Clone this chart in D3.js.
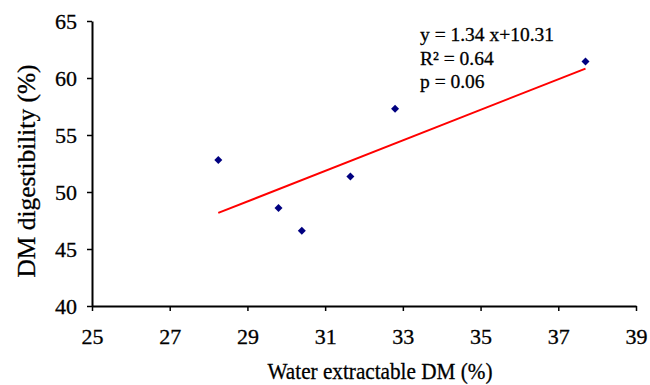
<!DOCTYPE html>
<html>
<head>
<meta charset="utf-8">
<script src="https://cdn.jsdelivr.net/npm/d3@7"></script>
<style>
  body { margin: 0; background: #fff; }
  svg text { font-family: "Liberation Serif", "Times New Roman", Times, "DejaVu Serif", serif !important; fill: #000; stroke: #000; stroke-width: 0.3px; }
</style>
</head>
<body>
<div id="container"></div>
<script>
var width = 650;
var height = 385;
var margin = { top: 21, right: 14, bottom: 79, left: 92 };

// water extractable DM (%) and DM digestibility (%)
var waterDM = [28.25, 29.8, 30.4, 31.65, 32.8, 37.7];
var digestibility = [52.8, 48.6, 46.6, 51.35, 57.3, 61.45];

var xTicks = [25, 27, 29, 31, 33, 35, 37, 39];
var yTicks = [40, 45, 50, 55, 60, 65];

var slope = 1.34;
var intercept = 10.31;
var statLines = ["y = 1.34 x+10.31", "R\u00B2 = 0.64", "p = 0.06"];

var x = d3.scaleLinear().domain([25, 39]).range([margin.left, width - margin.right]);
var y = d3.scaleLinear().domain([40, 65]).range([height - margin.bottom, margin.top]);

const svg = d3.create("svg")
    .attr("width", width)
    .attr("height", height);

// axes
var xAxis = svg.append("g")
    .attr("transform", "translate(0," + (height - margin.bottom) + ")")
    .call(d3.axisBottom(x).tickValues(xTicks).tickSize(5).tickPadding(17).tickSizeOuter(0));
var yAxis = svg.append("g")
    .attr("transform", "translate(" + margin.left + ",0)")
    .call(d3.axisLeft(y).tickValues(yTicks).tickSize(5).tickPadding(10).tickSizeOuter(0));

[xAxis, yAxis].forEach(function(a) {
    a.attr("font-family", null).attr("font-size", null);
    a.select(".domain").attr("stroke", "#000").attr("stroke-width", 2);
    a.selectAll(".tick line").attr("stroke", "#000").attr("stroke-width", 1.5);
    a.selectAll(".tick text")
	.style("font-size", "22px")
	.attr("fill", "#000");
});

// trend line over the data range
var ext = d3.extent(waterDM);
svg.append("path")
    .datum(ext)
    .attr("fill", "none")
    .attr("stroke", "#ff0000")
    .attr("stroke-width", 2)
    .attr("d", d3.line()
	  .x(function(d) { return x(d); })
	  .y(function(d) { return y(slope * d + intercept); }));

// points
var pts = waterDM.map(function(v, i) { return [v, digestibility[i]]; });
svg.append("g").selectAll("path")
    .data(pts)
    .enter().append("path")
    .attr("d", d3.symbol(d3.symbolSquare, 32)())
    .attr("transform", function(d) {
	return "translate(" + x(d[0]) + "," + y(d[1]) + ") rotate(45)";
    })
    .attr("fill", "#000080");

// regression stats
svg.append("g").selectAll("text")
    .data(statLines)
    .enter().append("text")
    .attr("x", 420)
    .attr("y", function(d, i) { return 41 + i * 23.5; })
    .style("font-size", "19.5px")
    .text(function(d) { return d; });

// axis titles
svg.append("text")
    .attr("x", 380)
    .attr("y", 379)
    .attr("text-anchor", "middle")
    .attr("textLength", 225)
    .attr("lengthAdjust", "spacingAndGlyphs")
    .style("font-size", "24px")
    .text("Water extractable DM (%)");

svg.append("text")
    .attr("transform", "translate(35,171) rotate(-90)")
    .attr("text-anchor", "middle")
    .attr("textLength", 213)
    .attr("lengthAdjust", "spacingAndGlyphs")
    .style("font-size", "26px")
    .text("DM digestibility (%)");

document.getElementById("container").append(svg.node());
</script>
</body>
</html>
